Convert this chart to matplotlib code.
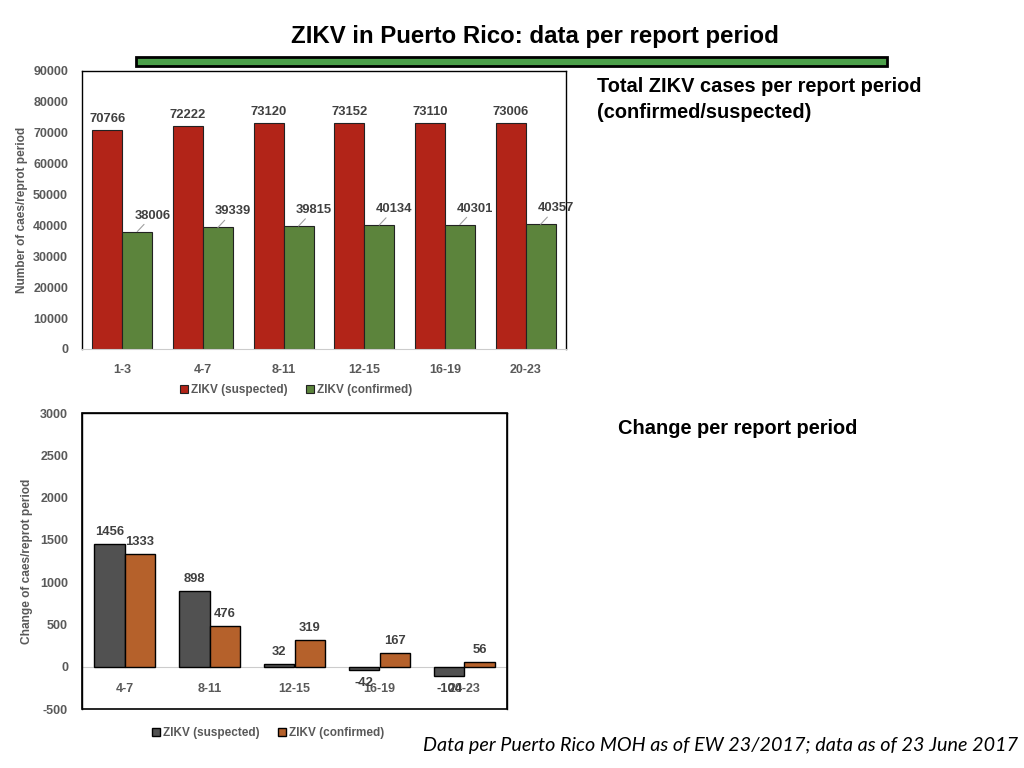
import matplotlib
matplotlib.use("Agg")
import matplotlib.pyplot as plt
from matplotlib.patches import Rectangle
import numpy as np

plt.rcParams['font.family'] = ['Liberation Sans', 'DejaVu Sans']
plt.rcParams['axes.unicode_minus'] = False

# ---- data ----
periods_total = ["1-3", "4-7", "8-11", "12-15", "16-19", "20-23"]
suspected_total = [70766, 72222, 73120, 73152, 73110, 73006]
confirmed_total = [38006, 39339, 39815, 40134, 40301, 40357]

periods_change = ["4-7", "8-11", "12-15", "16-19", "20-23"]
suspected_change = [1456, 898, 32, -42, -104]
confirmed_change = [1333, 476, 319, 167, 56]

title = "ZIKV in Puerto Rico: data per report period"
footer = "Data per Puerto Rico MOH as of EW 23/2017; data as of 23 June 2017"

RED = "#B22418"
GREEN = "#5C843C"
DGRAY = "#515151"
ORANGE = "#B5612B"
TICK = "#595959"
LBL = "#404040"

fig = plt.figure(figsize=(10.24, 7.68), dpi=100)

# title and header bar
fig.text(535/1024, 1-37/768, title, ha='center', va='center',
         fontsize=17.3, fontweight='bold', color='black')
fig.patches.append(Rectangle((136/1024, 1-66/768), (887-136)/1024, 9/768,
                             transform=fig.transFigure, facecolor="#4CA04A",
                             edgecolor="black", linewidth=2))

fig.text(597/1024, 1-87/768, "Total ZIKV cases per report period",
         ha='left', va='center', fontsize=14.4, fontweight='bold')
fig.text(597/1024, 1-112/768, "(confirmed/suspected)",
         ha='left', va='center', fontsize=14.4, fontweight='bold')
fig.text(618/1024, 1-428/768, "Change per report period",
         ha='left', va='center', fontsize=14.4, fontweight='bold')

fig.text(1018/1024, 1-745/768, footer, ha='right', va='center',
         fontsize=14.2, style='italic', family=['Lato', 'DejaVu Sans'])

# ---- top chart ----
ax1 = fig.add_axes([82/1024, 1-349/768, (566-82)/1024, (349-71)/768])
x1 = np.arange(len(periods_total))
w1 = 0.37
b_s = ax1.bar(x1 - w1/2, suspected_total, w1, color=RED, edgecolor="#222222",
              linewidth=0.8, label="ZIKV (suspected)")
b_c = ax1.bar(x1 + w1/2, confirmed_total, w1, color=GREEN, edgecolor="#222222",
              linewidth=0.8, label="ZIKV (confirmed)")
ax1.set_xlim(-0.5, len(periods_total) - 0.5)
ax1.set_ylim(0, 90000)
ax1.set_yticks(np.arange(0, 90001, 10000))
ax1.set_xticks(x1)
ax1.set_xticklabels(periods_total)
ax1.tick_params(axis='both', length=0, labelsize=9, labelcolor=TICK)
ax1.tick_params(axis='x', pad=11)
ax1.tick_params(axis='y', pad=10)
for lab in ax1.get_xticklabels() + ax1.get_yticklabels():
    lab.set_fontweight('bold')
for s in ['top', 'left', 'right']:
    ax1.spines[s].set_color('black')
    ax1.spines[s].set_linewidth(1)
ax1.spines['bottom'].set_color('#CCCCCC')
ax1.set_ylabel("Number of caes/reprot period", fontsize=8.6, fontweight='bold', color=TICK)
ax1.yaxis.set_label_coords(-0.112, 0.5)

for xi, v in zip(x1, suspected_total):
    ax1.annotate(f"{v}", (xi - w1/2, v), xytext=(0, 5), textcoords='offset pixels',
                 ha='center', va='bottom', fontsize=9.4, fontweight='bold', color=LBL)
for xi, v in zip(x1, confirmed_total):
    ax1.annotate(f"{v}", (xi + w1/2, v), xytext=(15, 16), textcoords='offset pixels',
                 ha='center', va='center', fontsize=9.4, fontweight='bold', color=LBL,
                 arrowprops=dict(arrowstyle='-', color='#A0A0A0', lw=0.8,
                                 shrinkA=0, shrinkB=0))

fig.legend(handles=[b_s, b_c], loc='center', bbox_to_anchor=(296/1024, 1-390/768),
           ncol=2, frameon=False, handlelength=0.7, handleheight=0.7,
           handletextpad=0.2, columnspacing=1.6,
           prop={'size': 8.5, 'weight': 'bold'}, labelcolor=TICK)

# ---- bottom chart ----
ax2 = fig.add_axes([82/1024, 1-709/768, (507-82)/1024, (709-413)/768])
x2 = np.arange(len(periods_change))
w2 = 0.36
c_s = ax2.bar(x2 - w2/2, suspected_change, w2, color=DGRAY, edgecolor="black",
              linewidth=1, label="ZIKV (suspected)")
c_c = ax2.bar(x2 + w2/2, confirmed_change, w2, color=ORANGE, edgecolor="black",
              linewidth=1, label="ZIKV (confirmed)")
ax2.set_xlim(-0.5, len(periods_change) - 0.5)
ax2.set_ylim(-500, 3000)
ax2.set_yticks(np.arange(-500, 3001, 500))
ax2.set_xticks(x2)
ax2.set_xticklabels(periods_change)
ax2.spines['bottom'].set_position(('data', 0))
ax2.spines['bottom'].set_color('#CCCCCC')
ax2.spines['bottom'].set_zorder(0.5)
for s in ['top', 'left', 'right']:
    ax2.spines[s].set_color('black')
    ax2.spines[s].set_linewidth(1)
ax2.add_patch(Rectangle((0, 0), 1, 1, transform=ax2.transAxes, fill=False,
                        edgecolor='black', linewidth=1.2, clip_on=False))
ax2.tick_params(axis='both', length=0, labelsize=9, labelcolor=TICK)
ax2.tick_params(axis='x', pad=12)
ax2.tick_params(axis='y', pad=10)
for lab in ax2.get_xticklabels() + ax2.get_yticklabels():
    lab.set_fontweight('bold')
ax2.set_ylabel("Change of caes/reprot period", fontsize=8.6, fontweight='bold', color=TICK)
ax2.yaxis.set_label_coords(-0.115, 0.5)

for bars, vals in ((c_s, suspected_change), (c_c, confirmed_change)):
    for b, v in zip(bars, vals):
        xc = b.get_x() + b.get_width()/2
        if v >= 0:
            ax2.annotate(f"{v}", (xc, v), xytext=(0, 6), textcoords='offset pixels',
                         ha='center', va='bottom', fontsize=9.4, fontweight='bold', color=LBL)
        else:
            ax2.annotate(f"{v}", (xc, v), xytext=(0, -13), textcoords='offset pixels',
                         ha='center', va='center', fontsize=9.4, fontweight='bold', color=LBL)

fig.legend(handles=[c_s, c_c], loc='center', bbox_to_anchor=(268/1024, 1-733/768),
           ncol=2, frameon=False, handlelength=0.7, handleheight=0.7,
           handletextpad=0.2, columnspacing=1.6,
           prop={'size': 8.5, 'weight': 'bold'}, labelcolor=TICK)

fig.savefig("out.png", dpi=100)
